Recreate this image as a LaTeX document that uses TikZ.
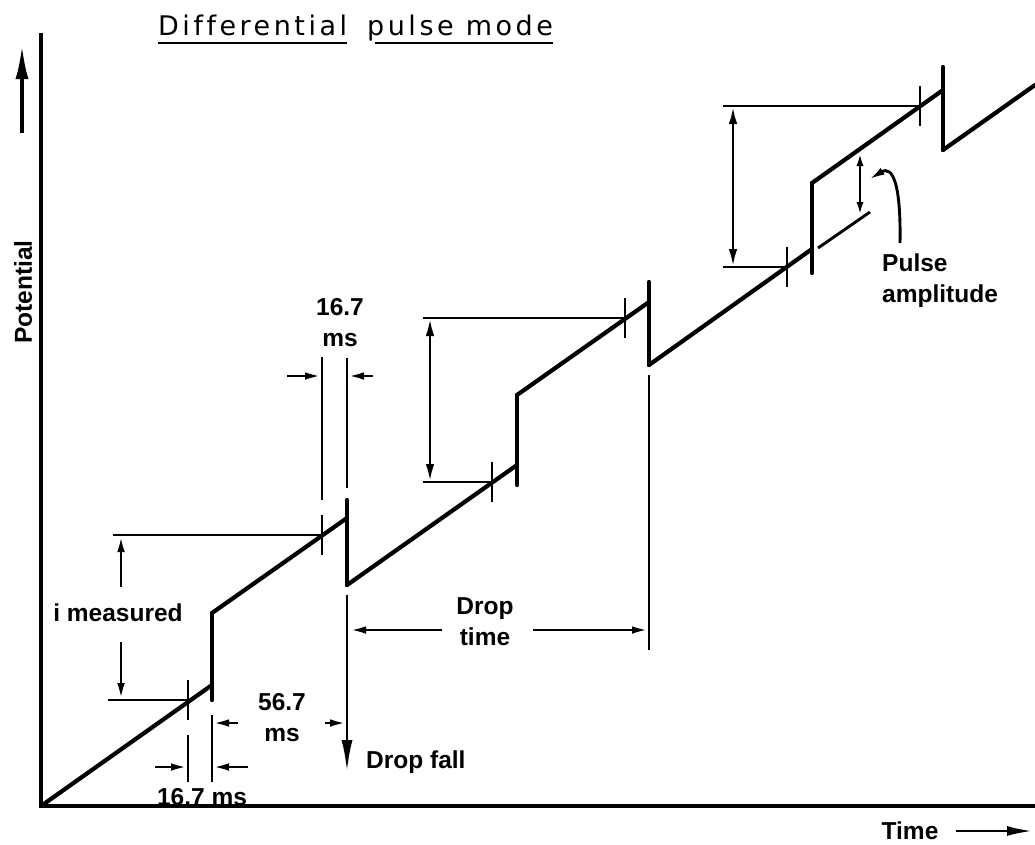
\documentclass[tikz,border=0pt]{standalone}
\usepackage{fontspec}
\setmainfont{Liberation Sans}
\newfontfamily\titlefont[LetterSpace=13,Ligatures=NoCommon]{DejaVu Sans}
\usetikzlibrary{arrows.meta,positioning}

\begin{document}
\begin{tikzpicture}[
  x=1pt, y=-1pt,
  wave/.style={line width=4.2pt,line cap=round,line join=round},
  dim/.style={line width=2.9pt},
  arrow/.style={dim,-{Latex[length=17pt,width=7.5pt]}},
  bothway/.style={dim,{Latex[length=18pt,width=8.5pt]}-{Latex[length=18pt,width=8.5pt]}},
  lbl/.style={font=\fontsize{24.5}{31}\selectfont\bfseries,inner sep=0pt,align=center},
  heading/.style={font=\titlefont\fontsize{27}{30}\selectfont,inner sep=0pt}
]
  \useasboundingbox (0,0) rectangle (1035,844);

  % axes
  \coordinate (origin) at (41,806);
  \draw[line width=3.8pt] (41,33) -- (origin) -- (1035,806);
  \node[lbl, rotate=90] (potential) at (23,292) {Potential};
  \draw[line width=3.6pt,-{Latex[length=34pt,width=13pt]}] (22,133) -- (22,45);
  \node[lbl] (time) at (910,831) {Time};
  \draw[dim,-{Latex[length=26pt,width=10pt]}] (time.east) ++(17,0) -- (1033,831);

  \node[heading, anchor=base west] (head1) at (158,35) {Differential};
  \node[heading, anchor=base west] (head2) at (367,35) {pulse mode};
  \draw[dim] ([yshift=-8pt]head1.base west) -- ([yshift=-8pt]head1.base east);
  \draw[dim] ([yshift=-8pt,xshift=8pt]head2.base west) -- ([yshift=-8pt]head2.base east);

  % staircase
  \coordinate (p1) at (212,685);  \coordinate (q1) at (212,613);
  \coordinate (d1) at (347,518);  \coordinate (e1) at (347,585);
  \coordinate (p2) at (517,465);  \coordinate (q2) at (517,395);
  \coordinate (d2) at (649,302);  \coordinate (e2) at (649,365);
  \coordinate (p3) at (812,249);  \coordinate (q3) at (812,183);
  \coordinate (d3) at (943,90);   \coordinate (e3) at (943,150);
  \coordinate (w) at (1035,85);
  \draw[wave] (origin) -- (p1) (q1) -- (d1) (e1) -- (p2) (q2) -- (d2) (e2) -- (p3) (q3) -- (d3) (e3) -- (w);
  \draw[wave] (q1) -- (212,700) (347,500) -- (e1) (q2) -- (517,485)
              (649,282) -- (e2) (q3) -- (812,273) (943,67) -- (e3);

  \foreach \x/\y [count=\i] in {188/700, 322/535, 492/482, 625/318, 787/267, 920/106} {
    \coordinate (m\i) at (\x,\y);
    \draw[dim] (\x,\y-20) -- (\x,\y+20);
  }

  % i measured
  \draw[dim] (113,535) -- (m2) (108,700) -- (m1);
  \node[lbl] (imeas) at (118,613) {i measured};
  \draw[arrow] (121,587) -- (121,535);
  \draw[arrow] (121,642) -- (121,700);

  \draw[dim] (423,318) -- (m4) (423,482) -- (m3);
  \draw[bothway] (430,318) -- (430,482);
  \draw[dim] (723,106) -- (m6) (723,267) -- (m5);
  \draw[bothway] (733,106) -- (733,267);

  % extension lines
  \draw[dim] (322,357) -- (322,500) (347,358) -- (347,488);
  \draw[dim] (212,715) -- (212,782) (188,735) -- (188,782);
  \draw[dim] (649,375) -- (649,650);

  \node[lbl] (top167) at (340,323) {16.7\\ms};
  \draw[arrow] (287,376) -- (322,376);
  \draw[arrow] (373,376) -- (347,376);

  \node[lbl] (low167) at (202,797) {16.7 ms};
  \draw[arrow] (155,767) -- (188,767);
  \draw[arrow] (248,767) -- (212,767);

  \node[lbl] (wait) at (282,718) {56.7\\ms};
  \draw[arrow] (238,723) -- (212,723);
  \draw[arrow] (325,723) -- (347,723);

  \node[lbl] (droptime) at (485,622) {Drop\\time};
  \draw[arrow] (442,630) -- (349,630);
  \draw[arrow] (533,630) -- (649,630);

  \draw[dim,-{Latex[length=32pt,width=11pt]}] (347,595) -- (347,772);
  \node[lbl, anchor=west] (dropfall) at (366,762) {Drop fall};

  % pulse amplitude
  \draw[dim] (818,248) -- (870,212);
  \draw[dim,{Latex[length=14pt,width=7pt]}-{Latex[length=14pt,width=7pt]}] (860,152) -- (860,216);
  \node[lbl, anchor=west, align=left] (pulse) at (882,281) {Pulse\\amplitude};
  \draw[arrow] (900,243) .. controls (901,185) and (893,165) .. (868,180);
\end{tikzpicture}
\end{document}
